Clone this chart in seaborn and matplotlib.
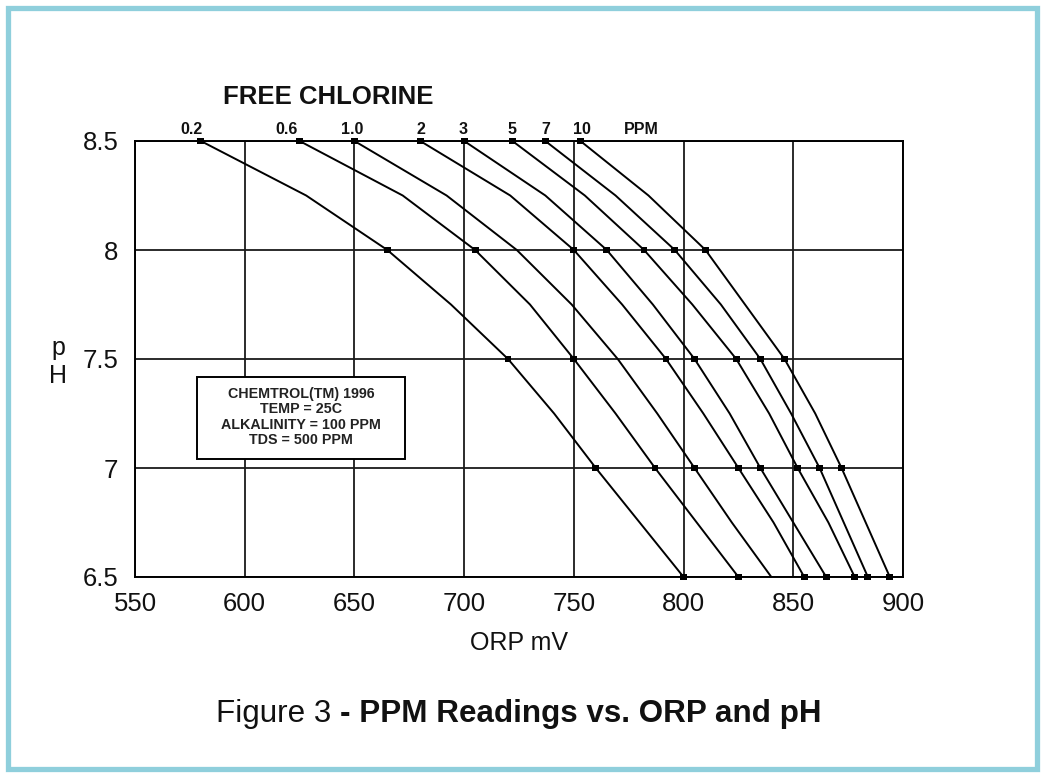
import numpy as np
import pandas as pd
import matplotlib
matplotlib.use("Agg")
import matplotlib.pyplot as plt
import seaborn as sns
from matplotlib.patches import Rectangle
from matplotlib import transforms

# ---------------- data ----------------
ph = [8.5, 8.25, 8.0, 7.75, 7.5, 7.25, 7.0, 6.75, 6.5]
ppm = ["0.2", "0.6", "1.0", "2", "3", "5", "7", "10"]
orp_0_2 = [580, 628, 665, 694, 720, 741, 760, 780, 800]
orp_0_6 = [625, 672, 705, 730, 750, 769, 787, 806, 825]
orp_1_0 = [650, 692, 724, 749, 770, 788, 805, 822, 840]
orp_2 = [680, 721, 750, 772, 792, 809, 825, 841, 855]
orp_3 = [700, 737, 765, 786, 805, 821, 835, 850, 865]
orp_5 = [722, 755, 782, 804, 824, 839, 852, 866, 878]
orp_7 = [737, 769, 796, 817, 835, 849, 862, 873, 884]
orp_10 = [753, 784, 810, 828, 846, 860, 872, 883, 894]
marked_ph = [8.5, 8.0, 7.5, 7.0, 6.5]
marked_ph_1_0 = [8.5, 7.0]
x_ticks = [550, 600, 650, 700, 750, 800, 850, 900]
y_ticks = [6.5, 7.0, 7.5, 8.0, 8.5]
y_tick_labels = ["6.5", "7", "7.5", "8", "8.5"]
note_lines = ["CHEMTROL(TM) 1996", "TEMP = 25C", "ALKALINITY = 100 PPM", "TDS = 500 PPM"]

series = [orp_0_2, orp_0_6, orp_1_0, orp_2, orp_3, orp_5, orp_7, orp_10]
marks = [marked_ph, marked_ph, marked_ph_1_0, marked_ph, marked_ph, marked_ph, marked_ph, marked_ph]

rows, mrows = [], []
for lab, vals, mk in zip(ppm, series, marks):
    for p, v in zip(ph, vals):
        rows.append({"ppm": lab, "orp": v, "ph": p})
        if p in mk:
            mrows.append({"ppm": lab, "orp": v, "ph": p})
df = pd.DataFrame(rows)
mdf = pd.DataFrame(mrows)

# ---------------- style ----------------
sns.set_style("white")
plt.rcParams["font.family"] = ["Liberation Sans", "DejaVu Sans"]

W, H = 1044, 774
fig = plt.figure(figsize=(W / 100, H / 100), dpi=100)
ax = fig.add_axes([135 / W, 1 - 577 / H, 768 / W, 436 / H])

grid_c = "#1a1a1a"
for xv in x_ticks:
    ax.axvline(xv, color=grid_c, lw=1.3, zorder=1)
for yv in y_ticks:
    ax.axhline(yv, color=grid_c, lw=1.3, zorder=1)

sns.lineplot(data=df, x="orp", y="ph", hue="ppm", hue_order=ppm,
             palette=["black"] * len(ppm), sort=False, estimator=None,
             legend=False, lw=1.4, ax=ax, zorder=3)
sns.scatterplot(data=mdf, x="orp", y="ph", marker="s", color="black",
                s=24, edgecolor="none", legend=False, ax=ax, zorder=5,
                clip_on=False)

ax.set_xlim(550, 900)
ax.set_ylim(6.5, 8.5)
ax.set_xticks(x_ticks)
ax.set_xticklabels([str(v) for v in x_ticks])
ax.set_yticks(y_ticks)
ax.set_yticklabels(y_tick_labels)
ax.tick_params(axis="both", length=0, labelsize=18.5, colors="#111111")
ax.tick_params(axis="x", pad=11)
ax.tick_params(axis="y", pad=12)
ax.set_xlabel("")
ax.set_ylabel("")
for s in ax.spines.values():
    s.set_visible(True)
    s.set_color("black")
    s.set_linewidth(1.4)

# concentration labels along the top edge
tr = transforms.blended_transform_factory(ax.transData, ax.transAxes)
nudges = [-9, -13, -2, 1, -1, 0, 0, 1]
for lab, vals, nd in zip(ppm, series, nudges):
    ax.annotate(lab, xy=(vals[0], 1.0), xycoords=tr, xytext=(nd * 0.72, 3),
                textcoords="offset points", ha="center", va="bottom",
                fontsize=11.5, fontweight="bold", color="#111111")
ax.annotate("PPM", xy=(orp_10[0], 1.0), xycoords=tr, xytext=(61 * 0.72, 3),
            textcoords="offset points", ha="center", va="bottom",
            fontsize=11.5, fontweight="bold", color="#111111")

fig.text(328 / W, 1 - 97 / H, "FREE CHLORINE", ha="center", va="center",
         fontsize=18.5, fontweight="bold", color="#111111")

# note box
bx0, bx1 = 578.3, 673.0
by0, by1 = 7.041, 7.417
ax.add_patch(Rectangle((bx0, by0), bx1 - bx0, by1 - by0, facecolor="white",
                       edgecolor="black", lw=1.4, zorder=6))
ax.text((bx0 + bx1) / 2, (by0 + by1) / 2 + 0.005, "\n".join(note_lines), ha="center",
        va="center", fontsize=10.3, fontweight="bold", linespacing=1.1,
        color="#222222", zorder=7)

# axis labels
fig.text(519 / W, 1 - 643 / H, "ORP mV", ha="center", va="center",
         fontsize=18, color="#111111")
fig.text(58 / W, 1 - 362 / H, "p\nH", ha="center", va="center",
         fontsize=18, linespacing=1.25, color="#111111")

# caption with mixed weights
cap_y = 1 - 722 / H
t1 = fig.text(216 / W, cap_y, "Figure 3 ", ha="left", va="baseline",
              fontsize=22.6, color="#111111")
fig.canvas.draw()
bb = t1.get_window_extent(renderer=fig.canvas.get_renderer())
fig.text(bb.x1 / W, cap_y, "- PPM Readings vs. ORP and pH", ha="left",
         va="baseline", fontsize=22.6, fontweight="bold", color="#111111")

# light-blue frame
fig.patches.append(Rectangle((8 / W, 1 - 769 / H), (1037 - 8) / W, (769 - 7.5) / H,
                             transform=fig.transFigure, fill=False,
                             edgecolor="#8fcfdc", lw=3.8))

fig.savefig("out.png", dpi=100)
